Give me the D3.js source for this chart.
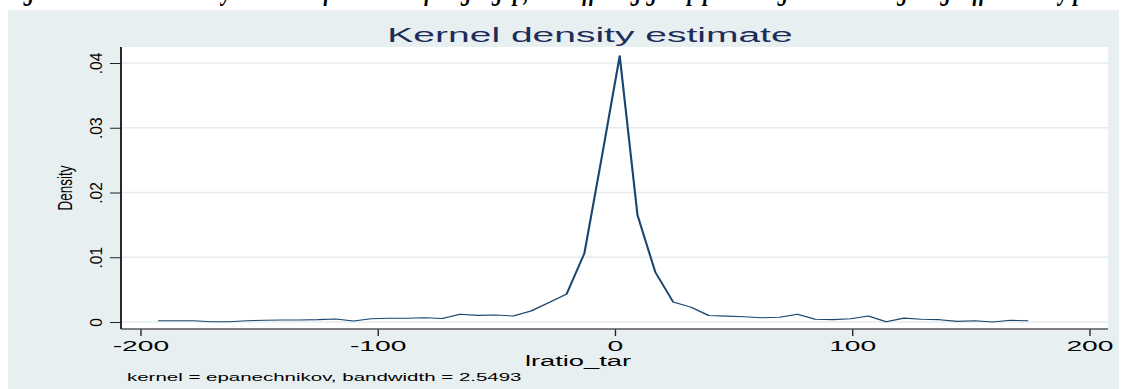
<!DOCTYPE html>
<html>
<head>
<meta charset="utf-8">
<script src="https://cdn.jsdelivr.net/npm/d3@7"></script>
<style>
  body { margin: 0; background: #fff; }
  svg { display: block; }
</style>
</head>
<body>
<svg id="chart"></svg>
<script>
// kdensity evaluation points (lratio_tar) and estimated density
const gridX = [-192.4, -184.9, -177.4, -169.9, -162.5, -155.0, -147.5, -140.0, -132.5, -125.0,
               -117.5, -110.0, -102.6, -95.1, -87.6, -80.1, -72.6, -65.1, -57.6, -50.2,
               -42.7, -35.2, -27.7, -20.2, -12.7, -5.2, 2.2, 9.7, 17.2, 24.7,
               32.2, 39.7, 47.2, 54.6, 62.1, 69.6, 77.1, 84.6, 92.1, 99.6,
               107.0, 114.5, 122.0, 129.5, 137.0, 144.5, 152.0, 159.4, 166.9, 174.4];
const density = [0.0002, 0.0002, 0.0002, 0.00005, 0.00005, 0.0002, 0.00026, 0.0003, 0.0003, 0.00036,
                 0.00046, 0.00015, 0.0005, 0.00057, 0.00057, 0.00066, 0.00054, 0.0012, 0.00103, 0.00108,
                 0.00093, 0.0017, 0.0030, 0.0043, 0.0106, 0.0258, 0.0411, 0.0165, 0.0077, 0.0031,
                 0.0023, 0.0010, 0.0009, 0.0008, 0.00066, 0.00073, 0.0012, 0.00042, 0.00036, 0.0005,
                 0.00093, 0.00005, 0.0006, 0.00042, 0.00036, 0.0001, 0.0002, 0.0, 0.00026, 0.0002];

const xTicks = [-200, -100, 0, 100, 200];
const xTickLabels = ["-200", "-100", "0", "100", "200"];
const yTicks = [0, 0.01, 0.02, 0.03, 0.04];
const yTickLabels = ["0", ".01", ".02", ".03", ".04"];

const titleText = "Kernel density estimate";
const xTitle = "lratio_tar";
const yTitle = "Density";
const noteText = "kernel = epanechnikov, bandwidth = 2.5493";
const captionText = "Figure 4.2: Kernel density estimate of the ratio of target gap, the differing group percentage and the targeting difference by p";

//the original graph is stretched sideways, so draw narrow and stretch
const stretch = 1.95;
const W = 1124 / stretch, H = 389;
const px = v => v / stretch;

const font = "'Liberation Sans', Arial, Helvetica, sans-serif";

const svg = d3.select("#chart")
    .attr("width", 1124)
    .attr("height", H)
    .attr("viewBox", `0 0 ${W} ${H}`)
    .attr("preserveAspectRatio", "none");

//plot region
const plot = {left: px(121), right: px(1108), top: 47, bottom: 329};

const x = d3.scaleLinear().domain([-200, 200]).range([px(140), px(1089)]);
const y = d3.scaleLinear().domain([0, 0.04]).range([322, 63]);

//graph background
svg.append("rect")
    .attr("x", px(8)).attr("y", 10)
    .attr("width", px(1111)).attr("height", H - 10)
    .attr("fill", "#e8eff1");

svg.append("rect")
    .attr("x", plot.left).attr("y", plot.top)
    .attr("width", plot.right - plot.left).attr("height", plot.bottom - plot.top)
    .attr("fill", "#fff");

//caption of the document, cut at the top (only the descenders show)
svg.append("g")
    .attr("transform", `scale(${1 / stretch},1)`)
    .append("text")
    .attr("x", 4).attr("y", 0)
    .attr("textLength", 1080)
    .attr("lengthAdjust", "spacingAndGlyphs")
    .attr("font-family", "'Liberation Serif', 'Times New Roman', serif")
    .attr("font-weight", "bold")
    .attr("font-style", "italic")
    .attr("font-size", 29)
    .attr("fill", "#000")
    .text(captionText);

//gridlines
svg.append("g").selectAll("line")
    .data(yTicks)
    .join("line")
    .attr("x1", plot.left).attr("x2", plot.right)
    .attr("y1", d => y(d)).attr("y2", d => y(d))
    .attr("stroke", "#e4ecef")
    .attr("stroke-width", 1.3);

//density line
svg.append("path")
    .datum(gridX.map((v, i) => [v, density[i]]))
    .attr("fill", "none")
    .attr("stroke", "#1a476f")
    .attr("stroke-width", 1.1)
    .attr("stroke-linejoin", "round")
    .attr("d", d3.line().x(d => x(d[0])).y(d => y(d[1])));

//x axis
const xAxis = svg.append("g")
    .attr("transform", `translate(0,${plot.bottom})`)
    .call(d3.axisBottom(x)
        .tickValues(xTicks)
        .tickSize(7)
        .tickPadding(5)
        .tickFormat((d, i) => xTickLabels[i]));
xAxis.select(".domain").remove();
xAxis.selectAll(".tick line").attr("stroke", "#222").attr("stroke-width", 0.7);
xAxis.selectAll(".tick text")
    .attr("font-family", font)
    .attr("font-size", 14.5)
    .attr("fill", "#000");

svg.append("line")
    .attr("x1", plot.left).attr("x2", plot.right)
    .attr("y1", plot.bottom).attr("y2", plot.bottom)
    .attr("stroke", "#555")
    .attr("stroke-width", 1.3);

//y axis
const yAxis = svg.append("g")
    .attr("transform", `translate(${plot.left},0)`)
    .call(d3.axisLeft(y)
        .tickValues(yTicks)
        .tickSize(px(11))
        .tickFormat((d, i) => yTickLabels[i]));
yAxis.select(".domain").remove();
yAxis.selectAll(".tick line").attr("stroke", "#222").attr("stroke-width", 1);
yAxis.selectAll(".tick text")
    .attr("x", null)
    .attr("dy", "0.36em")
    .attr("text-anchor", "middle")
    .attr("transform", `translate(${px(96) - plot.left},0) rotate(-90) scale(1,0.55)`)
    .attr("font-family", font)
    .attr("font-size", 15.5)
    .attr("fill", "#000");

svg.append("line")
    .attr("x1", plot.left).attr("x2", plot.left)
    .attr("y1", plot.top).attr("y2", plot.bottom)
    .attr("stroke", "#222")
    .attr("stroke-width", 1);

//titles
svg.append("text")
    .attr("x", px(590)).attr("y", 42)
    .attr("text-anchor", "middle")
    .attr("font-family", font)
    .attr("font-size", 20)
    .attr("fill", "#1e2c5a")
    .text(titleText);

svg.append("text")
    .attr("x", px(578)).attr("y", 366)
    .attr("text-anchor", "middle")
    .attr("font-family", font)
    .attr("font-size", 14)
    .attr("fill", "#000")
    .text(xTitle);

svg.append("text")
    .attr("transform", `translate(${px(65)},188) rotate(-90) scale(1,0.75)`)
    .attr("dy", "0.35em")
    .attr("text-anchor", "middle")
    .attr("font-family", font)
    .attr("font-size", 13.5)
    .attr("fill", "#000")
    .text(yTitle);

svg.append("text")
    .attr("x", px(127)).attr("y", 381)
    .attr("font-family", font)
    .attr("font-size", 10.5)
    .attr("fill", "#000")
    .text(noteText);
</script>
</body>
</html>
